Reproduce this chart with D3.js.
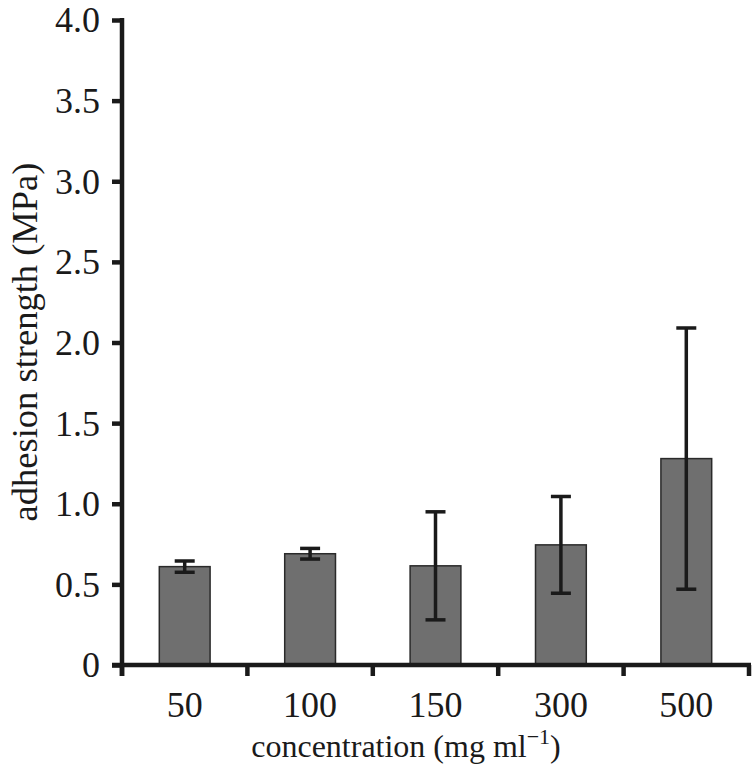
<!DOCTYPE html>
<html>
<head>
<meta charset="utf-8">
<script src="https://cdn.jsdelivr.net/npm/d3@7"></script>
<style>
  html, body { margin: 0; padding: 0; background: #fff; }
  svg { display: block; }
  text { font-family: "Liberation Serif", "Times New Roman", serif; fill: #1a1a1a; }
</style>
</head>
<body>
<svg id="chart" width="755" height="768"></svg>
<script>
const categories = ["50", "100", "150", "300", "500"];
const means = [0.61, 0.69, 0.615, 0.745, 1.28];
const errors = [0.035, 0.033, 0.335, 0.30, 0.81];
const yTicks = [0, 0.5, 1.0, 1.5, 2.0, 2.5, 3.0, 3.5, 4.0];

(function () {
const svg = d3.select("#chart");
const mLeft = 122, mRight = 749, mTop = 20, mBottom = 665;

const x = d3.scaleBand().domain(categories).range([mLeft, mRight]).padding(0);
const y = d3.scaleLinear().domain([0, 4]).range([mBottom, mTop]);
const barW = x.bandwidth() * 0.405;
const capW = 20;

// bars
svg.append("g").selectAll("rect").data(categories).join("rect")
  .attr("x", d => x(d) + x.bandwidth() / 2 - barW / 2)
  .attr("y", (d, i) => y(means[i]))
  .attr("width", barW)
  .attr("height", (d, i) => y(0) - y(means[i]))
  .attr("fill", "#6f6f6f")
  .attr("stroke", "#2a2a2a")
  .attr("stroke-width", 1.5);

// error bars
const eg = svg.append("g").attr("stroke", "#1a1a1a").attr("stroke-width", 3.5);
categories.forEach((c, i) => {
  const cx = x(c) + x.bandwidth() / 2;
  const lo = y(means[i] - errors[i]), hi = y(means[i] + errors[i]);
  eg.append("line").attr("x1", cx).attr("x2", cx).attr("y1", lo).attr("y2", hi);
  eg.append("line").attr("x1", cx - capW / 2).attr("x2", cx + capW / 2).attr("y1", lo).attr("y2", lo);
  eg.append("line").attr("x1", cx - capW / 2).attr("x2", cx + capW / 2).attr("y1", hi).attr("y2", hi);
});

// y axis
const yAxis = d3.axisLeft(y).tickValues(yTicks)
  .tickFormat(d => d === 0 ? "0" : d3.format(".1f")(d))
  .tickSize(10).tickPadding(12);
const gy = svg.append("g").attr("transform", `translate(${mLeft},0)`).call(yAxis);
gy.attr("font-family", null).attr("font-size", null);
gy.select(".domain").remove();
gy.selectAll(".tick line").attr("stroke", "#1a1a1a").attr("stroke-width", 4.5);
gy.selectAll(".tick text").attr("font-size", 36).attr("fill", "#1a1a1a").attr("dy", "0.33em");
svg.append("line").attr("x1", mLeft).attr("x2", mLeft).attr("y1", mTop - 2).attr("y2", mBottom + 11)
  .attr("stroke", "#1a1a1a").attr("stroke-width", 4.5);

// x axis
svg.append("line").attr("x1", mLeft - 10).attr("x2", mRight + 2).attr("y1", mBottom).attr("y2", mBottom)
  .attr("stroke", "#1a1a1a").attr("stroke-width", 4.5);
const boundaries = categories.map(c => x(c)).concat([mRight]);
svg.append("g").selectAll("line").data(boundaries).join("line")
  .attr("x1", d => d).attr("x2", d => d).attr("y1", mBottom).attr("y2", mBottom + 11)
  .attr("stroke", "#1a1a1a").attr("stroke-width", 4.5);
svg.append("g").selectAll("text").data(categories).join("text")
  .attr("x", d => x(d) + x.bandwidth() / 2)
  .attr("y", 717)
  .attr("text-anchor", "middle")
  .attr("font-size", 36)
  .text(d => d);

// axis titles
const xt = svg.append("text").attr("x", 406).attr("y", 757).attr("text-anchor", "middle").attr("font-size", 32);
xt.append("tspan").text("concentration (mg ml");
xt.append("tspan").attr("font-size", 22).attr("dy", -13).text("\u22121");
xt.append("tspan").attr("dy", 13).text(")");

svg.append("text")
  .attr("transform", "translate(37,342) rotate(-90)")
  .attr("text-anchor", "middle")
  .attr("font-size", 36.5)
  .text("adhesion strength (MPa)");
})();
</script>
</body>
</html>
